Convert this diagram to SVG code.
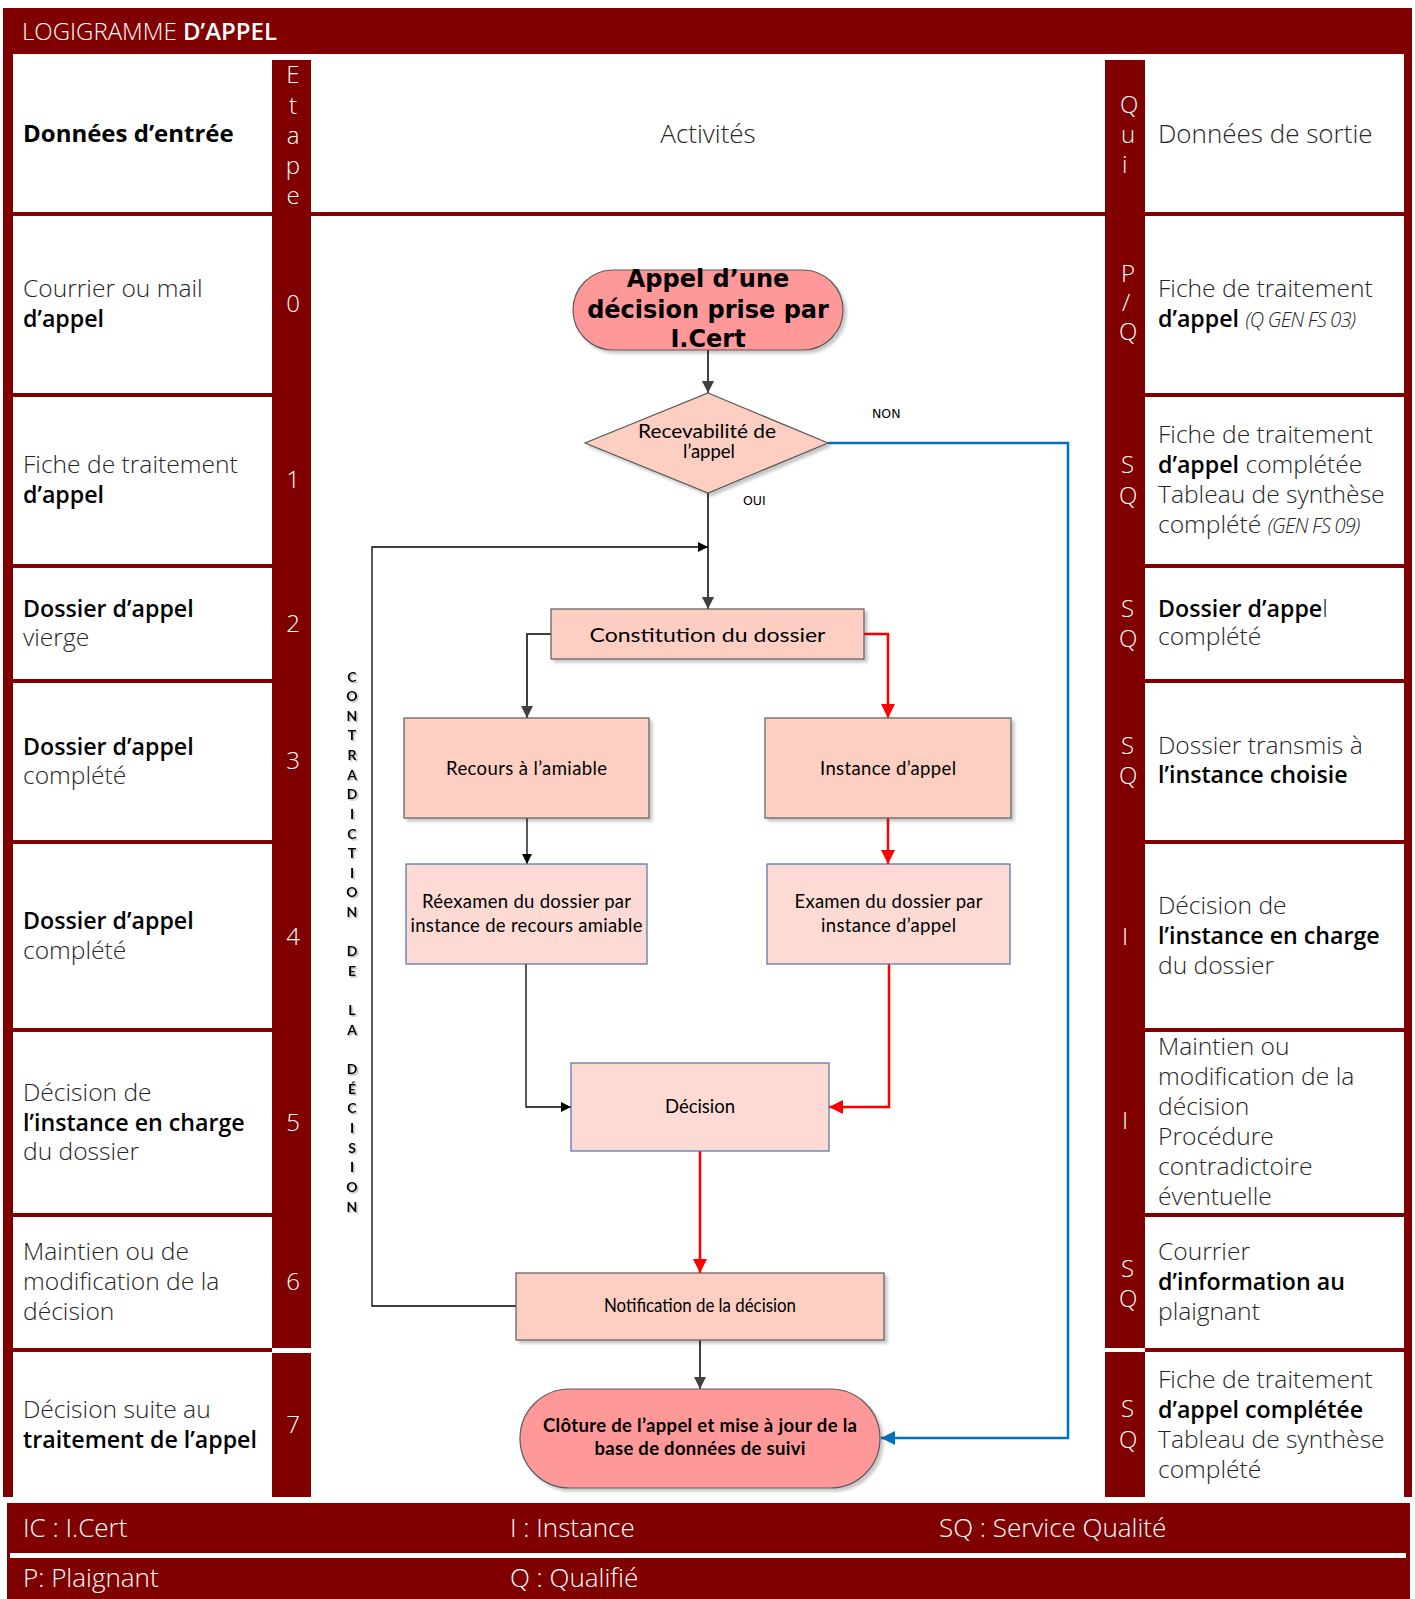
<svg xmlns="http://www.w3.org/2000/svg" width="1415" height="1599" viewBox="0 0 1415 1599">
<style>
.dr{fill:#800000}
.t{font-family:'Open Sans','Segoe UI',sans-serif;font-size:24.6px;font-weight:300;fill:#262626}
.b{font-weight:600;fill:#000;font-size:23.2px}
.bb{font-weight:700;fill:#000;font-size:24px}
.h{font-size:26px}
.w{font-family:'Open Sans',sans-serif;font-size:24px;font-weight:300;fill:#fff}
.ft{font-size:26px}
.wc{text-anchor:middle}
.i{font-style:italic;font-size:20px;letter-spacing:-0.8px}
.f{font-family:Lato,'Liberation Sans',sans-serif;font-size:18.5px;fill:#000;text-anchor:middle}
.term{fill:#FF9999;stroke:#5a5a5a;stroke-width:1.2}
.pk{fill:#FCCFC2;stroke:#5a5a5a;stroke-width:1.2}
.pb{fill:#FDDBD4;stroke:#4F6FA8;stroke-width:1.2}
.cg{fill:none;stroke:#404040;stroke-width:2}
.cr{fill:none;stroke:#FF0000;stroke-width:2.5}
.cb{fill:none;stroke:#0070C0;stroke-width:2.5}
.ck{fill:none;stroke:#000;stroke-width:1.3}
.lbl{font-family:'DejaVu Sans',sans-serif;font-size:12.5px;fill:#000}
.vl{font-family:Lato,sans-serif;font-weight:700;font-size:14px;fill:#000;text-anchor:middle}
</style>
<defs>
<filter id="sh" x="-10%" y="-10%" width="130%" height="150%"><feDropShadow dx="3" dy="3" stdDeviation="1.5" flood-color="#000" flood-opacity="0.22"/></filter>
<filter id="tsh" x="-30%" y="-30%" width="170%" height="170%"><feDropShadow dx="1.5" dy="1.5" stdDeviation="0.6" flood-color="#888" flood-opacity="0.6"/></filter>
<marker id="ag" viewBox="0 0 12 12" refX="12" refY="6" markerWidth="12" markerHeight="12" markerUnits="userSpaceOnUse" orient="auto"><path d="M0,0 L12,6 L0,12 z" fill="#404040"/></marker>
<marker id="ar" viewBox="0 0 14 14" refX="14" refY="7" markerWidth="14" markerHeight="14" markerUnits="userSpaceOnUse" orient="auto"><path d="M0,0 L14,7 L0,14 z" fill="#FF0000"/></marker>
<marker id="ab" viewBox="0 0 14 14" refX="14" refY="7" markerWidth="14" markerHeight="14" markerUnits="userSpaceOnUse" orient="auto"><path d="M0,0 L14,7 L0,14 z" fill="#0070C0"/></marker>
<marker id="ak" viewBox="0 0 10 10" refX="10" refY="5" markerWidth="10" markerHeight="10" markerUnits="userSpaceOnUse" orient="auto"><path d="M0,0 L10,5 L0,10 z" fill="#000"/></marker>
</defs>
<rect width="1415" height="1599" fill="#fff"/>

<g id="table">
<rect class="dr" x="3" y="8" width="1409" height="46"/>
<rect class="dr" x="3" y="54" width="10" height="1443"/>
<rect class="dr" x="1404" y="54" width="8" height="1443"/>
<rect class="dr" x="272" y="60" width="39" height="1288"/>
<rect class="dr" x="272" y="1353" width="39" height="144"/>
<rect class="dr" x="1105" y="60" width="40" height="1288"/>
<rect class="dr" x="1105" y="1352" width="40" height="145"/>
<rect class="dr" x="13" y="212" width="1391" height="4"/>
<g class="dr">
<rect x="13" y="393" width="259" height="4"/><rect x="1145" y="393" width="259" height="4"/>
<rect x="13" y="564" width="259" height="4"/><rect x="1145" y="564" width="259" height="4"/>
<rect x="13" y="679" width="259" height="4"/><rect x="1145" y="679" width="259" height="4"/>
<rect x="13" y="840" width="259" height="4"/><rect x="1145" y="840" width="259" height="4"/>
<rect x="13" y="1028" width="259" height="4"/><rect x="1145" y="1028" width="259" height="4"/>
<rect x="13" y="1213" width="259" height="4"/><rect x="1145" y="1213" width="259" height="4"/>
<rect x="13" y="1348" width="259" height="4"/><rect x="1145" y="1348" width="259" height="4"/>
</g>
<rect class="dr" x="7" y="1503" width="1403" height="96"/>
<rect fill="#fff" x="10" y="1553" width="1396" height="5"/>

<text class="w" x="22" y="40">LOGIGRAMME <tspan font-weight="600">D’APPEL</tspan></text>

<text class="t bb" x="23" y="142">Données d’entrée</text>
<text class="t h" x="708" y="143" text-anchor="middle">Activités</text>
<text class="t h" x="1158" y="143">Données de sortie</text>

<text class="w wc" x="292"><tspan x="293" y="83">E</tspan><tspan x="293" y="114">t</tspan><tspan x="293" y="144">a</tspan><tspan x="293" y="174">p</tspan><tspan x="293" y="204">e</tspan></text>
<text class="w"><tspan x="1120" y="113">Q</tspan><tspan x="1121" y="143">u</tspan><tspan x="1122" y="173">i</tspan></text>

<g class="w wc">
<text x="293" y="312">0</text><text x="293" y="488">1</text><text x="293" y="632">2</text><text x="293" y="769">3</text>
<text x="293" y="945">4</text><text x="293" y="1131">5</text><text x="293" y="1290">6</text><text x="293" y="1433">7</text>
</g>
<g class="w">
<text x="1121" y="282">P</text><text x="1122" y="311">/</text><text x="1119" y="340">Q</text>
<text x="1121" y="473">S</text><text x="1119" y="504">Q</text>
<text x="1121" y="617">S</text><text x="1119" y="647">Q</text>
<text x="1121" y="754">S</text><text x="1119" y="784">Q</text>
<text x="1122" y="945">I</text>
<text x="1122" y="1129">I</text>
<text x="1121" y="1277">S</text><text x="1119" y="1307">Q</text>
<text x="1121" y="1417">S</text><text x="1119" y="1448">Q</text>
</g>

<g class="t">
<text x="23" y="297">Courrier ou mail</text><text class="b" x="23" y="327">d’appel</text>
<text x="23" y="473">Fiche de traitement</text><text class="b" x="23" y="503">d’appel</text>
<text class="b" x="23" y="617">Dossier d’appel</text><text x="23" y="646">vierge</text>
<text class="b" x="23" y="755">Dossier d’appel</text><text x="23" y="784">complété</text>
<text class="b" x="23" y="929">Dossier d’appel</text><text x="23" y="959">complété</text>
<text x="23" y="1101">Décision de</text><text class="b" x="23" y="1131">l’instance en charge</text><text x="23" y="1160">du dossier</text>
<text x="23" y="1260">Maintien ou de</text><text x="23" y="1290">modification de la</text><text x="23" y="1320">décision</text>
<text x="23" y="1418">Décision suite au</text><text class="b" x="23" y="1448">traitement de l’appel</text>

<text x="1158" y="297">Fiche de traitement</text>
<text x="1158" y="327"><tspan class="b">d’appel</tspan> <tspan class="i">(Q GEN FS 03)</tspan></text>
<text x="1158" y="443">Fiche de traitement</text>
<text x="1158" y="473"><tspan class="b">d’appel</tspan> complétée</text>
<text x="1158" y="503">Tableau de synthèse</text>
<text x="1158" y="533">complété <tspan class="i">(GEN FS 09)</tspan></text>
<text x="1158" y="617"><tspan class="b">Dossier d’appe</tspan>l</text>
<text x="1158" y="645">complété</text>
<text x="1158" y="754">Dossier transmis à</text>
<text class="b" x="1158" y="783">l’instance choisie</text>
<text x="1158" y="914">Décision de</text>
<text class="b" x="1158" y="944">l’instance en charge</text>
<text x="1158" y="974">du dossier</text>
<text x="1158" y="1055">Maintien ou</text>
<text x="1158" y="1085">modification de la</text>
<text x="1158" y="1115">décision</text>
<text x="1158" y="1145">Procédure</text>
<text x="1158" y="1175">contradictoire</text>
<text x="1158" y="1205">éventuelle</text>
<text x="1158" y="1260">Courrier</text>
<text class="b" x="1158" y="1290">d’information au</text>
<text x="1158" y="1320">plaignant</text>
<text x="1158" y="1388">Fiche de traitement</text>
<text class="b" x="1158" y="1418">d’appel complétée</text>
<text x="1158" y="1448">Tableau de synthèse</text>
<text x="1158" y="1478">complété</text>
</g>

<g class="w ft">
<text x="23" y="1537">IC : I.Cert</text>
<text x="510" y="1537">I : Instance</text>
<text x="939" y="1537">SQ : Service Qualité</text>
<text x="23" y="1587">P: Plaignant</text>
<text x="510" y="1587">Q : Qualifié</text>
</g>
</g>

<g id="connectors">
<path class="cg" d="M708,350 V393" marker-end="url(#ag)"/>
<path class="cg" d="M708,493 V609" marker-end="url(#ag)"/>
<path class="cb" d="M828,443 H1068 V1438 H881" marker-end="url(#ab)"/>
<path class="cg" d="M551,634 H527 V718" marker-end="url(#ag)"/>
<path class="cr" d="M864,634 H888 V718" marker-end="url(#ar)"/>
<path class="ck" d="M527,818 V864" marker-end="url(#ak)"/>
<path class="cr" d="M888,818 V864" marker-end="url(#ar)"/>
<path class="ck" d="M526,964 V1107 H571" marker-end="url(#ak)"/>
<path class="cr" d="M889,964 V1107 H829" marker-end="url(#ar)"/>
<path class="cr" d="M700,1151 V1273" marker-end="url(#ar)"/>
<path class="cg" d="M700,1340 V1389" marker-end="url(#ag)"/>
<path class="ck" d="M516,1306 H372 V547 H708" marker-end="url(#ak)"/>
<text class="lbl" x="872" y="418">NON</text>
<text class="lbl" x="743" y="505">OUI</text>
<text class="vl" filter="url(#tsh)"><tspan x="352" y="681.5">C</tspan><tspan x="352" y="701.1">O</tspan><tspan x="352" y="720.8">N</tspan><tspan x="352" y="740.4">T</tspan><tspan x="352" y="760">R</tspan><tspan x="352" y="779.7">A</tspan><tspan x="352" y="799.3">D</tspan><tspan x="352" y="818.9">I</tspan><tspan x="352" y="838.5">C</tspan><tspan x="352" y="858.2">T</tspan><tspan x="352" y="877.8">I</tspan><tspan x="352" y="897.4">O</tspan><tspan x="352" y="917.1">N</tspan><tspan x="352" y="956.3">D</tspan><tspan x="352" y="976">E</tspan><tspan x="352" y="1015.2">L</tspan><tspan x="352" y="1034.9">A</tspan><tspan x="352" y="1074.1">D</tspan><tspan x="352" y="1093.7">É</tspan><tspan x="352" y="1113.4">C</tspan><tspan x="352" y="1133">I</tspan><tspan x="352" y="1152.6">S</tspan><tspan x="352" y="1172.3">I</tspan><tspan x="352" y="1191.9">O</tspan><tspan x="352" y="1211.5">N</tspan></text>
</g>

<g id="n-start">
<rect class="term" x="573" y="270" width="270" height="80" rx="40" filter="url(#sh)"/>
<g font-family="'DejaVu Sans',Verdana,sans-serif" font-weight="700" font-size="24px" text-anchor="middle" fill="#000">
<text x="708" y="287">Appel d’une</text>
<text x="708" y="318">décision prise par</text>
<text x="708" y="347">I.Cert</text>
</g>
</g>
<g id="n-recevabilite">
<polygon class="pk" points="708,393 828,443 708,493 585,443" filter="url(#sh)"/>
<text class="f" x="707" y="438" font-size="17px" textLength="138" lengthAdjust="spacingAndGlyphs">Recevabilité de</text>
<text class="f" x="709" y="458" font-size="14px">l’appel</text>
</g>
<g id="n-constitution">
<rect class="pk" x="551" y="609" width="313" height="50" filter="url(#sh)"/>
<text class="f" x="707.5" y="642" font-size="23px" textLength="236" lengthAdjust="spacingAndGlyphs">Constitution du dossier</text>
</g>
<g id="n-recours">
<rect class="pk" x="404" y="718" width="245" height="100" filter="url(#sh)"/>
<text class="f" x="526.5" y="775" textLength="161">Recours à l’amiable</text>
</g>
<g id="n-instance">
<rect class="pk" x="765" y="718" width="246" height="100" filter="url(#sh)"/>
<text class="f" x="888" y="775" textLength="136">Instance d’appel</text>
</g>
<g id="n-reexamen">
<rect class="pb" x="406" y="864" width="241" height="100"/>
<text class="f" x="526.5" y="908" textLength="209">Réexamen du dossier par</text>
<text class="f" x="526.5" y="932" textLength="232">instance de recours amiable</text>
</g>
<g id="n-examen">
<rect class="pb" x="767" y="864" width="243" height="100"/>
<text class="f" x="888.5" y="908" textLength="188">Examen du dossier par</text>
<text class="f" x="888.5" y="932" textLength="135">instance d’appel</text>
</g>
<g id="n-decision">
<rect class="pb" x="571" y="1063" width="258" height="88"/>
<text class="f" x="700" y="1113" textLength="70">Décision</text>
</g>
<g id="n-notification">
<rect class="pk" x="516" y="1273" width="368" height="67" filter="url(#sh)"/>
<text class="f" x="700" y="1312" font-size="15.5px" textLength="192" lengthAdjust="spacingAndGlyphs">Notification de la décision</text>
</g>
<g id="n-cloture">
<rect class="term" x="520" y="1389" width="360" height="99" rx="49.5" filter="url(#sh)"/>
<text class="f" x="700" y="1432" font-weight="700" font-size="17px" textLength="314">Clôture de l’appel et mise à jour de la</text>
<text class="f" x="700" y="1455" font-weight="700" font-size="17px" textLength="211">base de données de suivi</text>
</g>
</svg>
